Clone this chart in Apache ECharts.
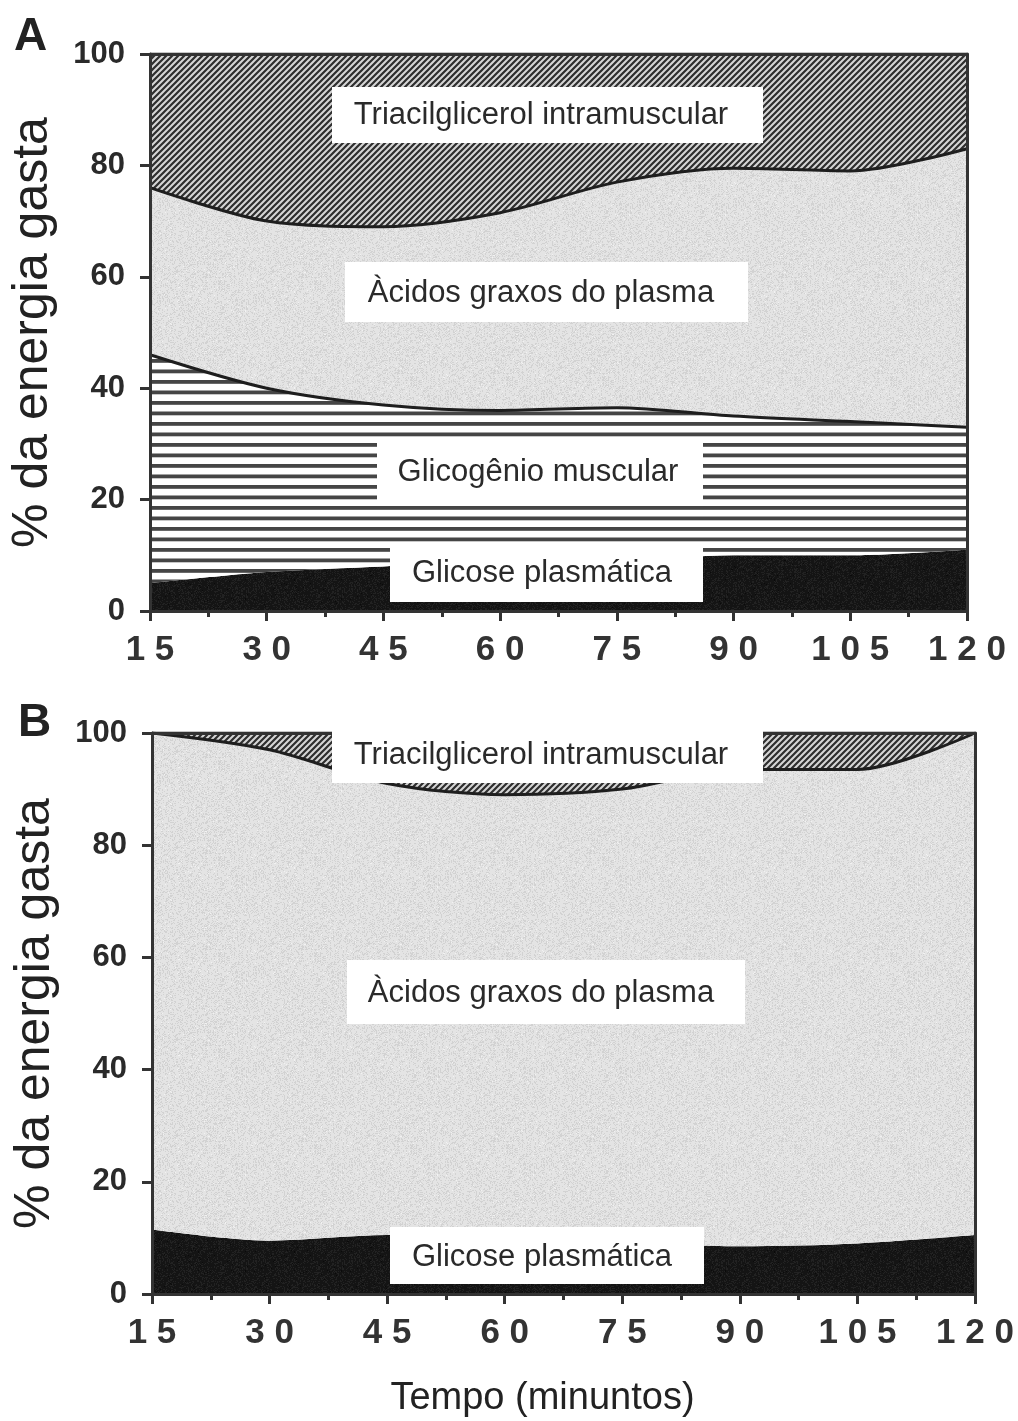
<!DOCTYPE html>
<html>
<head>
<meta charset="utf-8">
<script src="https://cdn.jsdelivr.net/npm/echarts@6/dist/echarts.min.js"></script>
<style>
html,body{margin:0;padding:0;background:#ffffff;}
#chart{width:1018px;height:1421px;}
</style>
</head>
<body>
<div id="chart"></div>
<script>
// ---- Data ----
var time = [15, 30, 45, 60, 75, 90, 105, 120];
var xTicks = [15, 30, 45, 60, 75, 90, 105, 120];
var yTicks = [0, 20, 40, 60, 80, 100];

// Panel A (% of energy expenditure, stacked bottom to top)
var A_glicose    = [5, 7, 8, 9, 9, 10, 10, 11];
var A_glicogenio = [41, 33, 29, 27, 27.5, 25, 24, 22];
var A_acidos     = [30, 30, 32, 35.5, 40.5, 44.5, 45, 50];
var A_tg         = [24, 30, 31, 28.5, 23, 20.5, 21, 17];

// Panel B
var B_glicose = [11.5, 9.5, 10.5, 9, 9, 8.5, 9, 10.5];
var B_acidos  = [88.5, 87.5, 80.5, 80, 81, 85, 84.5, 89.5];
var B_tg      = [0, 3, 9, 11, 10, 6.5, 6.5, 0];

var labelTG = 'Triacilglicerol intramuscular';
var labelAG = 'Àcidos graxos do plasma';
var labelGM = 'Glicogênio muscular';
var labelGP = 'Glicose plasmática';
var yTitle = '% da energia gasta';
var xTitle = 'Tempo (minuntos)';

// ---- Patterns ----
function hatchPattern() {
  var c = document.createElement('canvas'); c.width = 6; c.height = 6;
  var g = c.getContext('2d');
  g.fillStyle = '#d6d6d6'; g.fillRect(0, 0, 6, 6);
  g.strokeStyle = '#2e2e2e'; g.lineWidth = 2.2;
  g.beginPath();
  g.moveTo(-1, 7); g.lineTo(7, -1);
  g.moveTo(-4, 4); g.lineTo(4, -4);
  g.moveTo(2, 10); g.lineTo(10, 2);
  g.stroke();
  return c;
}
function stripePattern() {
  var c = document.createElement('canvas'); c.width = 4; c.height = 21;
  var g = c.getContext('2d');
  g.fillStyle = '#ffffff'; g.fillRect(0, 0, 4, 21);
  g.fillStyle = '#454545';
  g.fillRect(0, 2, 4, 3.8);
  g.fillRect(0, 12.5, 4, 3.8);
  return c;
}
function stipplePattern(base, dark, light) {
  var n = 96;
  var c = document.createElement('canvas'); c.width = n; c.height = n;
  var g = c.getContext('2d');
  g.fillStyle = base; g.fillRect(0, 0, n, n);
  for (var i = 0; i < n; i++) {
    for (var j = 0; j < n; j++) {
      var h = ((i * 374761393) ^ (j * 668265263)) >>> 0;
      h = ((h ^ (h >>> 13)) * 1274126177) >>> 0;
      var r = (h & 1023) / 1023;
      if (r < 0.18) { g.fillStyle = dark; g.fillRect(i, j, 1, 1); }
      else if (r > 0.9) { g.fillStyle = light; g.fillRect(i, j, 1, 1); }
    }
  }
  return c;
}
var hatch = { image: hatchPattern(), repeat: 'repeat' };
var stripes = { image: stripePattern(), repeat: 'repeat' };
var stipple = { image: stipplePattern('#e4e4e4', '#d2d2d2', '#f2f2f2'), repeat: 'repeat' };
var blackFill = { image: stipplePattern('#141414', '#222222', '#0a0a0a'), repeat: 'repeat' };

var axisColor = '#333333';
var grids = [
  { left: 145, top: 54, width: 822, height: 557 },
  { left: 152, top: 733, width: 823, height: 561 }
];

// hidden category axis that carries the series (points at the 8 sample times)
function catX(gi) {
  return {
    type: 'category', gridIndex: gi, position: 'top', data: time.map(String), boundaryGap: false,
    axisLine: { show: false }, axisTick: { show: false }, axisLabel: { show: false }, splitLine: { show: false }
  };
}
// visible value axis with ticks, minor ticks and labels
function mainX(gi, withName) {
  var ax = {
    type: 'value', gridIndex: gi, position: 'bottom',
    min: xTicks[0], max: xTicks[xTicks.length - 1], interval: 15,
    z: 5,
    axisLine: { show: true, onZero: false, lineStyle: { color: axisColor, width: 3 } },
    axisTick: { show: true, length: 10, lineStyle: { color: axisColor, width: 3 } },
    minorTick: { show: true, splitNumber: 2, length: 6, lineStyle: { color: axisColor, width: 3 } },
    splitLine: { show: false }, minorSplitLine: { show: false },
    axisLabel: {
      margin: 22, color: '#333', fontSize: 35, fontWeight: 'bold', fontFamily: 'Liberation Sans',
      formatter: function (v) { return String(v).split('').join(' '); }
    }
  };
  if (withName) {
    ax.name = xTitle; ax.nameLocation = 'middle'; ax.nameGap = 86;
    ax.nameTextStyle = { fontSize: 38, color: '#222', fontFamily: 'Liberation Sans', padding: [0, 42, 0, 0] };
  }
  return ax;
}
function topX(gi) {
  return {
    type: 'value', gridIndex: gi, position: 'top', min: 15, max: 120, interval: 15, z: 5,
    axisLine: { show: true, onZero: false, lineStyle: { color: axisColor, width: 3 } },
    axisTick: { show: false }, axisLabel: { show: false }, splitLine: { show: false }
  };
}
function mainY(gi) {
  return {
    type: 'value', gridIndex: gi, position: 'left',
    min: yTicks[0], max: yTicks[yTicks.length - 1], interval: 20, z: 5,
    name: yTitle, nameLocation: 'middle', nameGap: 92, nameRotate: 90,
    nameTextStyle: { fontSize: 50, color: '#222', fontFamily: 'Liberation Sans' },
    axisLine: { show: true, onZero: false, lineStyle: { color: axisColor, width: 3 } },
    axisTick: { show: true, length: 10, lineStyle: { color: axisColor, width: 3 } },
    splitLine: { show: false },
    axisLabel: { margin: 25, color: '#2a2a2a', fontSize: 31, fontWeight: 'bold', fontFamily: 'Liberation Sans' }
  };
}
function rightY(gi) {
  return {
    type: 'value', gridIndex: gi, position: 'right', min: 0, max: 100, interval: 20, z: 5,
    axisLine: { show: true, onZero: false, lineStyle: { color: axisColor, width: 3 } },
    axisTick: { show: false }, axisLabel: { show: false }, splitLine: { show: false }
  };
}

function areaSeries(name, vals, xi, yi, stack, fill, lineW) {
  return {
    name: name, type: 'line', xAxisIndex: xi, yAxisIndex: yi, stack: stack,
    data: vals, smooth: 0.3, symbol: 'none', showSymbol: false,
    lineStyle: { color: '#1e1e1e', width: lineW },
    areaStyle: { color: fill, opacity: 1 },
    emphasis: { disabled: true }, silent: true
  };
}

function box(x, y, w, h, text, cx, cy) {
  return [
    { type: 'rect', z: 100, shape: { x: x, y: y, width: w, height: h }, style: { fill: '#ffffff' } },
    { type: 'text', z: 101, x: cx, y: cy,
      style: { text: text, fill: '#2a2a2a', font: '31px "Liberation Sans"', textAlign: 'center', textVerticalAlign: 'middle' } }
  ];
}

var graphics = [].concat(
  box(332, 87, 431, 56, labelTG, 541, 115),
  box(345, 262, 403, 60, labelAG, 541, 293),
  box(377, 442, 326, 58, labelGM, 538, 472),
  box(390, 545, 313, 57, labelGP, 542, 573),
  box(332, 726, 431, 57, labelTG, 541, 755),
  box(347, 960, 398, 64, labelAG, 541, 993),
  box(390, 1227, 314, 57, labelGP, 542, 1257),
  [
    { type: 'text', z: 101, x: 14, y: 14, style: { text: 'A', fill: '#222', font: 'bold 46px "Liberation Sans"' } },
    { type: 'text', z: 101, x: 18, y: 700, style: { text: 'B', fill: '#222', font: 'bold 46px "Liberation Sans"' } }
  ]
);

var option = {
  backgroundColor: '#ffffff',
  animation: false,
  grid: grids,
  // 0: cat A, 1: value A bottom, 2: top A, 3: cat B, 4: value B bottom, 5: top B
  xAxis: [catX(0), mainX(0, false), topX(0), catX(1), mainX(1, true), topX(1)],
  yAxis: [mainY(0), rightY(0), mainY(1), rightY(1)],
  series: [
    areaSeries(labelGP, A_glicose, 0, 0, 'A', blackFill, 0),
    areaSeries(labelGM, A_glicogenio, 0, 0, 'A', stripes, 3),
    areaSeries(labelAG, A_acidos, 0, 0, 'A', stipple, 3),
    areaSeries(labelTG, A_tg, 0, 0, 'A', hatch, 3),
    areaSeries(labelGP, B_glicose, 3, 2, 'B', blackFill, 0),
    areaSeries(labelAG, B_acidos, 3, 2, 'B', stipple, 3),
    areaSeries(labelTG, B_tg, 3, 2, 'B', hatch, 3)
  ],
  graphic: graphics
};

var chart = echarts.init(document.getElementById('chart'), null, { renderer: 'canvas' });
chart.setOption(option);
</script>
</body>
</html>
